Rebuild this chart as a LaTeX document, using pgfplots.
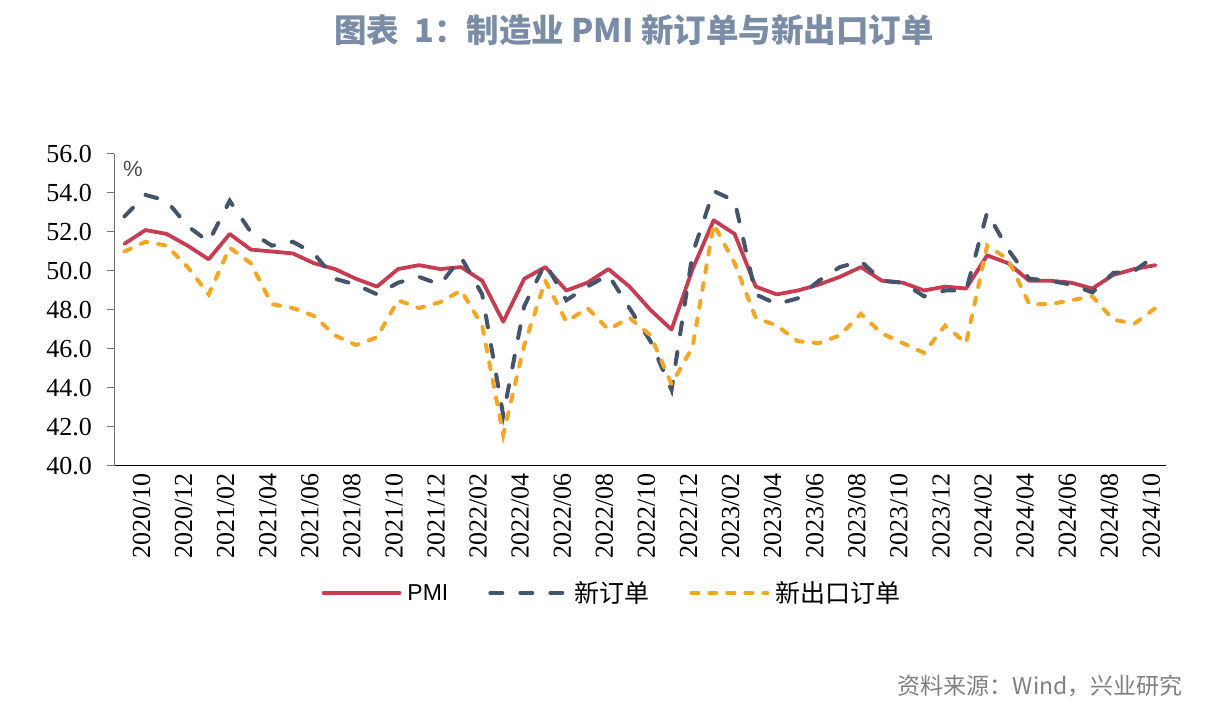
\documentclass[border=0pt]{standalone}
\usepackage{pgfplots}
\pgfplotsset{compat=1.18}
\usepackage{pgfplotstable}
\usepackage{fontspec}
\setmainfont{Liberation Serif}
\newfontfamily\cjk{Noto Sans CJK SC}
\newfontfamily\lsans{Liberation Sans}
\definecolor{cPMI}{RGB}{200,60,82}
\definecolor{cNew}{RGB}{68,84,106}
\definecolor{cExp}{RGB}{245,166,35}
\definecolor{cTitle}{RGB}{122,140,166}
\definecolor{cSrc}{RGB}{128,128,128}

\pgfplotstableread{
i pmi neworder export
0 51.4 52.8 51.0
1 52.1 53.9 51.5
2 51.9 53.6 51.3
3 51.3 52.3 50.2
4 50.6 51.5 48.8
5 51.9 53.6 51.2
6 51.1 52.0 50.4
7 51.0 51.3 48.3
8 50.9 51.5 48.1
9 50.4 50.9 47.7
10 50.1 49.6 46.7
11 49.6 49.3 46.2
12 49.2 48.8 46.6
13 50.1 49.4 48.5
14 50.3 49.7 48.1
15 50.1 49.3 48.4
16 50.2 50.7 49.0
17 49.5 48.8 47.2
18 47.4 42.6 41.6
19 49.6 48.2 46.2
20 50.2 50.4 49.5
21 49.0 48.5 47.4
22 49.4 49.2 48.1
23 50.1 49.8 47.0
24 49.2 48.1 47.6
25 48.0 46.4 46.7
26 47.0 43.9 44.2
27 50.1 50.9 46.1
28 52.6 54.1 52.4
29 51.9 53.6 50.4
30 49.2 48.8 47.6
31 48.8 48.3 47.2
32 49.0 48.6 46.4
33 49.3 49.5 46.3
34 49.7 50.2 46.7
35 50.2 50.5 47.8
36 49.5 49.5 46.8
37 49.4 49.4 46.3
38 49.0 48.7 45.8
39 49.2 49.0 47.2
40 49.1 49.0 46.3
41 50.8 53.0 51.3
42 50.4 51.1 50.6
43 49.5 49.6 48.3
44 49.5 49.5 48.3
45 49.4 49.3 48.5
46 49.1 48.9 48.7
47 49.8 49.9 47.5
48 50.1 50.0 47.3
49 50.3 50.8 48.1
}\datatable

\begin{document}
\begin{tikzpicture}
\useasboundingbox (0pt,0pt) rectangle (1227pt,714pt);
\begin{axis}[
  at={(114pt,248pt)}, anchor=south west,
  scale only axis, width=1052pt, height=312pt,
  xmin=-0.5, xmax=49.5, ymin=40, ymax=56,
  axis x line=bottom, axis y line=left,
  axis line style={-},
  x axis line style={black, line width=1pt},
  y axis line style={gray!90!black, line width=1pt},
  ytick={40,42,...,56},
  yticklabel={\pgfmathprintnumber[fixed,fixed zerofill,precision=1]{\tick}},
  /pgf/number format/assume math mode=true,
  xtick={0,2,...,48},
  xticklabels={2020/10,2020/12,2021/02,2021/04,2021/06,2021/08,2021/10,2021/12,2022/02,2022/04,2022/06,2022/08,2022/10,2022/12,2023/02,2023/04,2023/06,2023/08,2023/10,2023/12,2024/02,2024/04,2024/06,2024/08,2024/10},
  minor xtick={-0.5,1.5,...,49.5},
  tick align=outside,
  major tick length=7pt, minor tick length=8pt,
  xtick style={draw=none},
  minor x tick style={gray!80!black, line width=1pt},
  ytick style={gray!90!black, line width=1pt},
  tick label style={font=\fontsize{26}{29}\selectfont, text=black},
  xticklabel style={rotate=90, anchor=east, inner sep=0pt, yshift=-17pt},
  yticklabel style={anchor=east, inner sep=0pt, xshift=-15pt},
  legend columns=3,
  legend style={at={(0.4734,-0.407)}, anchor=center, draw=none, fill=none,
    font=\fontsize{25}{28}\selectfont,
    /tikz/every even column/.append style={column sep=38pt},
    /tikz/every odd column/.append style={column sep=4pt}},
  legend cell align=left,
  legend image code/.code={\draw[#1] (0pt,0pt) -- (76pt,0pt);},
  clip=false,
]
\addplot[cPMI, line width=3.8pt, line join=round, line cap=round] table[x=i,y=pmi]{\datatable};
\addlegendentry{\lsans\fontsize{23}{26}\selectfont PMI}
\addplot[cNew, line width=4pt, line cap=round, dash pattern=on 12pt off 18pt] table[x=i,y=neworder]{\datatable};
\addlegendentry{\cjk 新订单}
\addplot[cExp, line width=4pt, line cap=round, dash pattern=on 7pt off 11pt] table[x=i,y=export]{\datatable};
\addlegendentry{\cjk 新出口订单}
\end{axis}
\node[text=black!70, font=\lsans\fontsize{22}{25}\selectfont] at (133pt,545pt) {\%};
\node[text=cTitle, font=\cjk\bfseries\fontsize{32.5}{36}\selectfont] at (634pt,684pt) {图表~~1：制造业 PMI 新订单与新出口订单};
\node[text=cSrc, font=\cjk\fontsize{23}{26}\selectfont, anchor=east, inner sep=0pt] at (1183pt,28pt) {资料来源：Wind，兴业研究};
\end{tikzpicture}
\end{document}
